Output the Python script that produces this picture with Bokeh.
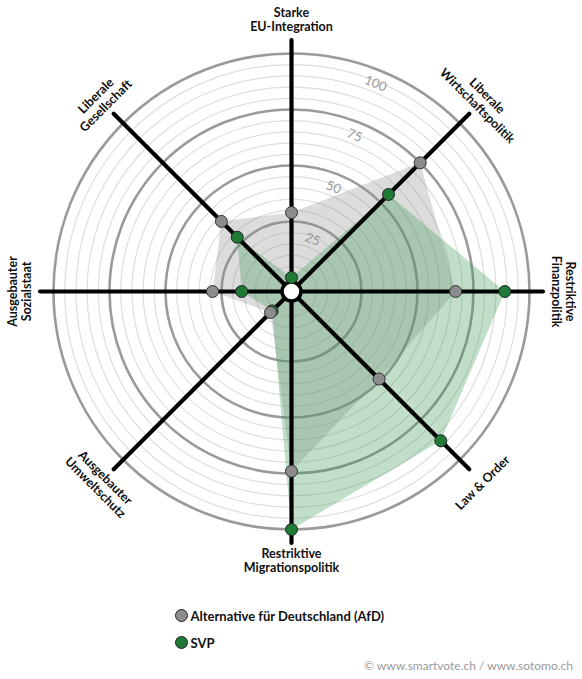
import math
from bokeh.plotting import figure
from bokeh.models import Range1d
from bokeh.core.properties import value
from bokeh.embed import file_html
from bokeh.resources import INLINE

# ---- data ----
categories = ["Starke\nEU-Integration", "Liberale\nWirtschaftspolitik", "Restriktive\nFinanzpolitik",
              "Law & Order", "Restriktive\nMigrationspolitik", "Ausgebauter\nUmweltschutz",
              "Ausgebauter\nSozialstaat", "Liberale\nGesellschaft"]
afd_values = [29, 75, 67, 49, 74, 7, 29, 38]
svp_values = [0, 55, 89, 88, 100, 6, 16, 28]
series_names = ["Alternative für Deutschland (AfD)", "SVP"]
ring_ticks = [25, 50, 75, 100]
minor_step = 5
source_text = "© www.smartvote.ch / www.sotomo.ch"

# ---- styling / geometry ----
W, H = 582, 679
CX, CY = 291, 291               # centre, px from top-left
R0, SCALE = 14.0, 2.24          # pixel radius of value 0, px per unit
AXIS_END = 106
HOLE_R = 9.5
label_r = [272, 270, 272, 270, 269, 270, 272, 270]
label_rot = [0, -45, -90, 45, 0, -45, 90, 45]
FONT = "Lato"
GREY_PT, GREEN_PT = "#8c8c8c", "#1f7a35"

def rad(v):
    return R0 + SCALE * v

def theta(i):
    return math.radians(90 - 45 * i)

def xy(i, v):
    r = rad(v)
    return r * math.cos(theta(i)), r * math.sin(theta(i))

p = figure(width=W, height=H, x_range=Range1d(-CX, W - CX), y_range=Range1d(CY - H, CY),
           output_backend="svg", toolbar_location=None, min_border=0)
p.axis.visible = False
p.grid.visible = False
p.outline_line_color = None
p.background_fill_color = "white"

# rings
minor = [v for v in range(minor_step, ring_ticks[-1] + 1, minor_step) if v not in ring_ticks]
p.circle(x=[0] * len(minor), y=[0] * len(minor), radius=[rad(v) for v in minor],
         fill_color=None, line_color="#dedede", line_width=1.2)
p.circle(x=[0] * len(ring_ticks), y=[0] * len(ring_ticks), radius=[rad(v) for v in ring_ticks],
         fill_color=None, line_color="#9a9a9a", line_width=2.6)

# polygons
n = len(categories)
ax_, ay_ = zip(*[xy(i, afd_values[i]) for i in range(n)])
sx_, sy_ = zip(*[xy(i, svp_values[i]) for i in range(n)])
p.patch(list(ax_), list(ay_), fill_color="#8a8a8a", fill_alpha=0.3, line_color=None)
p.patch(list(sx_), list(sy_), fill_color="#3f9a55", fill_alpha=0.32, line_color=None)

# axes
for i in range(n):
    x0, y0 = HOLE_R * math.cos(theta(i)), HOLE_R * math.sin(theta(i))
    x1, y1 = xy(i, AXIS_END)
    p.line([x0, x1], [y0, y1], line_color="black", line_width=4.2, line_cap="round")

# center hole
p.circle(x=[0], y=[0], radius=[HOLE_R], fill_color="white", line_color="black", line_width=3.5)

# ring labels
ang = math.radians(90 - 22)
p.text(x=[(rad(v) - 13) * math.cos(ang) for v in ring_ticks],
       y=[(rad(v) - 13) * math.sin(ang) for v in ring_ticks],
       text=[str(v) for v in ring_ticks], angle=math.radians(-22),
       text_align="center", text_baseline="middle", text_color="#9a9a9a",
       text_font=value(FONT), text_font_size="13px")

# points
p.scatter(list(sx_), list(sy_), size=12, fill_color=GREEN_PT, line_color="#222222", line_width=1)
p.scatter(list(ax_), list(ay_), size=12, fill_color=GREY_PT, line_color="#333333", line_width=1)

# category labels
p.text(x=[label_r[i] * math.cos(theta(i)) for i in range(n)],
       y=[label_r[i] * math.sin(theta(i)) for i in range(n)],
       text=categories, angle=[math.radians(a) for a in label_rot],
       text_align="center", text_baseline="middle", text_color="#111111",
       text_font=value(FONT), text_font_style="bold", text_font_size="12.5px",
       text_line_height=0.94)

# legend
leg_y = [-324, -351]
p.scatter([-110, -110], leg_y, size=12, fill_color=[GREY_PT, GREEN_PT], line_color="#222222", line_width=1)
p.text(x=[-101, -101], y=leg_y, text=series_names, text_align="left", text_baseline="middle",
       text_color="#111111", text_font=value(FONT), text_font_style="bold", text_font_size="13px")

# source
p.text(x=[282], y=[-374], text=[source_text], text_align="right", text_baseline="middle",
       text_color="#9a9a9a", text_font=value(FONT), text_font_size="12px")

open("out.html", "w").write(file_html(p, INLINE))
